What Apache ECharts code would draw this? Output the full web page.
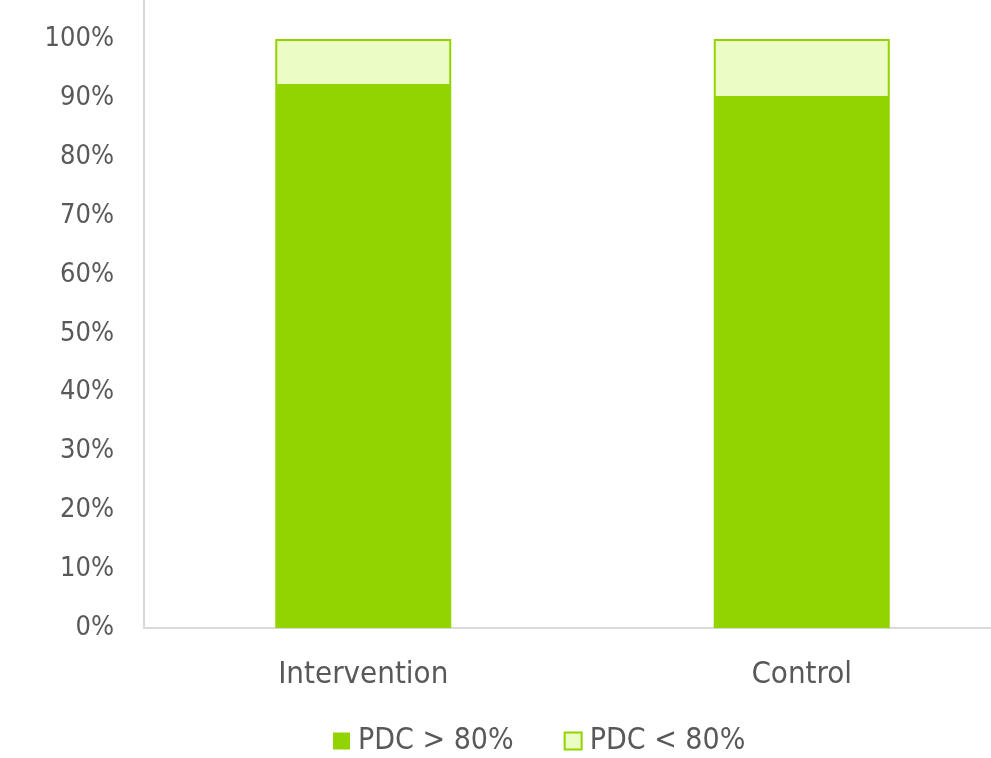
<!DOCTYPE html>
<html>
<head>
<meta charset="utf-8">
<script src="https://cdn.jsdelivr.net/npm/echarts@6/dist/echarts.min.js"></script>
<style>
  html, body { margin: 0; padding: 0; background: #fff; overflow: hidden; }
  /* plot area runs past the right edge of the window, as in the source */
  #chart { width: 1021px; height: 758px; }
</style>
</head>
<body>
<div id="chart"></div>
<script>
// groups on the x axis
const groups = ['Intervention', 'Control'];
// share of patients (fraction of 1)
const pdcAbove = [0.92, 0.90];
const pdcBelow = [0.08, 0.10];
const seriesNames = ['PDC > 80%', 'PDC < 80%'];

const FONT = '"DejaVu Sans Condensed", "DejaVu Sans", sans-serif';
const TEXT = '#595959';
const DARK = '#92D400';
const LIGHT = '#EBFCC5';

const chart = echarts.init(document.getElementById('chart'));

const option = {
    animation: false,
    backgroundColor: '#fff',
    grid: { left: 144, top: 0, right: 0, height: 628, containLabel: false },
    legend: {
        top: 726,
        left: 333,
        padding: 0,
        itemWidth: 17,
        itemHeight: 17,
        itemGap: 50,
        textStyle: { fontFamily: FONT, fontSize: 30, color: TEXT, padding: [0, 0, 0, 3] },
        data: [
            { name: seriesNames[0], icon: 'rect' },
            { name: seriesNames[1], icon: 'rect' }
        ]
    },
    xAxis: {
        type: 'category',
        data: groups,
        axisLine: { lineStyle: { color: '#d9d9d9', width: 2 } },
        axisTick: { show: false },
        axisLabel: { fontFamily: FONT, fontSize: 31, color: TEXT, margin: 31 }
    },
    yAxis: {
        type: 'value',
        min: 0,
        max: 628 / 589,
        interval: 0.1,
        axisLine: { show: true, lineStyle: { color: '#d9d9d9', width: 2 } },
        axisTick: { show: false },
        splitLine: { show: false },
        axisLabel: {
            fontFamily: FONT, fontSize: 27, color: TEXT, margin: 30,
            formatter: v => v > 1.0001 ? '' : Math.round(v * 100) + '%'
        }
    },
    series: [
        {
            name: seriesNames[0],
            type: 'bar',
            stack: 'pdc',
            barWidth: 176,
            data: pdcAbove,
            itemStyle: { color: DARK }
        },
        {
            name: seriesNames[1],
            type: 'bar',
            stack: 'pdc',
            barWidth: 176,
            data: pdcBelow,
            itemStyle: { color: LIGHT, borderColor: DARK, borderWidth: 2 }
        }
    ]
};

chart.setOption(option);
</script>
</body>
</html>
